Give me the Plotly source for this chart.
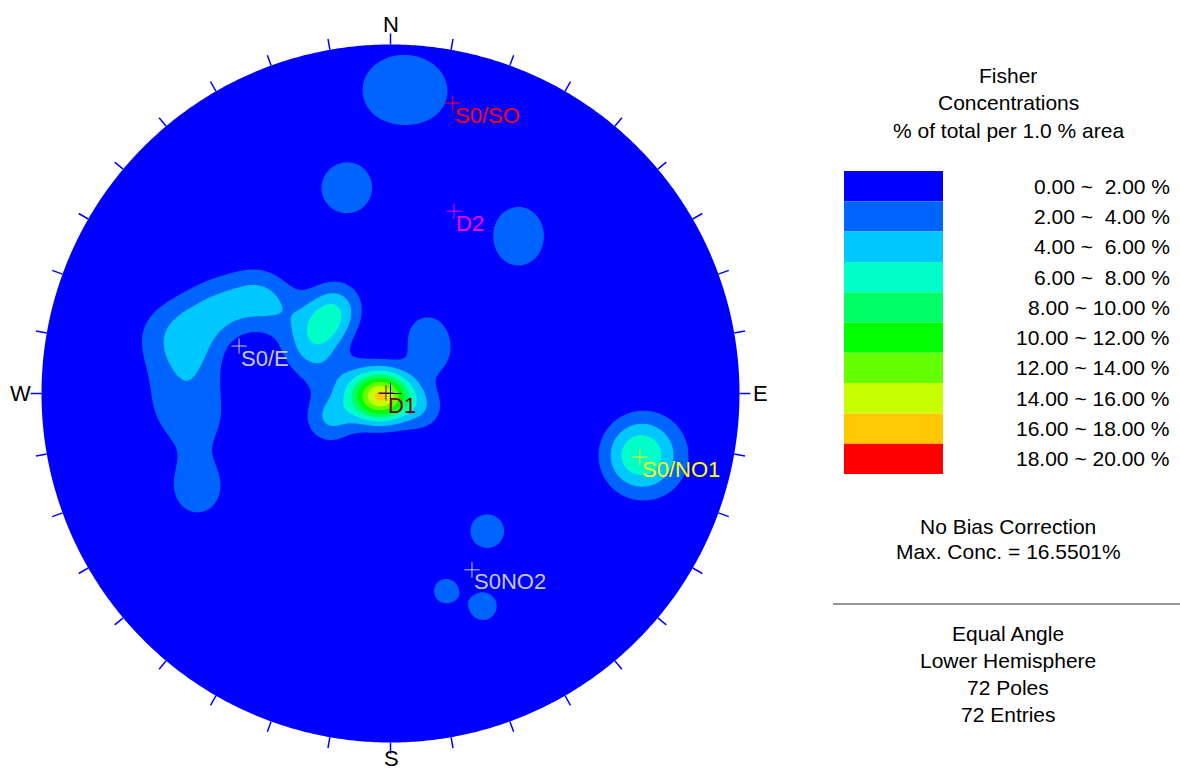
import numpy as np
import plotly.graph_objects as go

# ---------------- data ----------------
# estimated pole groups of the stereonet (lower hemisphere):
# trend, plunge, weight (pole equivalents) and Fisher concentration
POLE_TREND = [359.3, 6.2, 348.0, 37.1, 41.4, 144.9, 164.3, 156.5, 103.8,
              246.8, 241.5,
              306.3, 296.9, 289.0, 281.7, 284.1,
              273.5, 274.2, 265.2, 264.2, 258.75,
              306.9, 329.3, 319.6, 308.4, 294.6, 287.0,
              255.3, 259.1, 99.0, 247.9, 114.7, 290.9, 31.1, 48.7]
POLE_PLUNGE = [8.2, 8.2, 28.1, 27.6, 32.2, 38.6, 29.1, 22.8, 17.1,
               28.1, 25.8,
               39.5, 33.1, 27.9, 29.2, 21.0,
               25.3, 33.9, 25.7, 34.3, 31.0,
               47.5, 57.1, 59.1, 60.3, 58.1, 66.2,
               86.8, 80.5, 86.8, 68.8, 78.6, 75.8, 67.1, 72.0]
POLE_WEIGHT = [0.8, 0.8, 1.23, 0.72, 0.72, 0.95, 0.28, 0.30, 2.75,
               0.6, 0.6,
               1.2, 1.15, 0.85, 0.8, 0.5,
               0.4, 0.4, 0.5, 0.45, 0.4,
               0.7, 1.1, 1.2, 1.1, 0.6, 0.6,
               4.4, 1.2, 1.1, 1.4, 1.0, 0.6, 0.9, 0.8]
POLE_KAPPA = [100, 100, 100, 100, 100, 100, 450, 450, 100,
              100, 100,
              100, 100, 100, 100, 100,
              100, 100, 100, 100, 100,
              100, 100, 100, 100, 100, 100,
              100, 100, 100, 100, 100, 100, 100, 100]
N_POLES = 72
N_ENTRIES = 72
MAX_CONC = 16.5501

LEVELS = [0, 2, 4, 6, 8, 10, 12, 14, 16, 18, 20]
LEVEL_COLORS = ["#0000FF", "#0064FF", "#00C8FF", "#00FFC8", "#00FF64",
                "#00FF00", "#64FF00", "#C8FF00", "#FFC800", "#FF0000"]

SET_NAMES = ["S0/SO", "D2", "S0/E", "D1", "S0/NO1", "S0NO2"]
SET_TREND = [12.1, 19.2, 287.4, 276.3, 104.3, 155.2]
SET_PLUNGE = [9.2, 32.1, 41.1, 88.5, 17.2, 31.8]
SET_COLORS = ["#FF0000", "#FF00FF", "#C8C8C8", "#800000", "#FFFF00", "#C8C8C8"]

DIRECTIONS = ["N", "E", "S", "W"]

# ---------------- layout constants ----------------
W, H = 1180, 771
CX, CY, R = 390.5, 393.5, 349.0
FONT = "Liberation Sans, Arial, sans-serif"


def project(trend, plunge):
    t = np.radians(trend)
    r = np.tan(np.radians(90.0 - np.asarray(plunge)) / 2.0)
    return r * np.sin(t), r * np.cos(t)


def px2data(px, py):
    return (px - CX) / R, (CY - py) / R


# ---------------- Fisher density grid ----------------
n = 421
g = np.linspace(-1.03, 1.03, n)
X, Y = np.meshgrid(g, g)
rr = np.hypot(X, Y)
theta = 2.0 * np.arctan(rr)
az = np.arctan2(X, Y)
ve = np.sin(theta) * np.sin(az)
vn = np.sin(theta) * np.cos(az)
vd = np.cos(theta)

Z = np.zeros_like(X)
for t, p, w, k in zip(POLE_TREND, POLE_PLUNGE, POLE_WEIGHT, POLE_KAPPA):
    tr, pr = np.radians(t), np.radians(p)
    pe, pn, pd = np.cos(pr) * np.sin(tr), np.cos(pr) * np.cos(tr), np.sin(pr)
    c = np.abs(ve * pe + vn * pn + vd * pd)
    Z += w * 100.0 / N_POLES * 0.02 * k * np.exp(k * (c - 1.0))
Z = Z * MAX_CONC / Z.max()
Z = np.round(Z, 3)

colorscale = []
for i, col in enumerate(LEVEL_COLORS):
    colorscale.append([i / len(LEVEL_COLORS), col])
    colorscale.append([(i + 1) / len(LEVEL_COLORS), col])

fig = go.Figure()
fig.add_trace(go.Contour(
    x=g, y=g, z=Z,
    contours=dict(start=LEVELS[1], end=LEVELS[-2], size=2, coloring="fill", showlines=False),
    line=dict(width=0),
    colorscale=colorscale, zmin=LEVELS[0], zmax=LEVELS[-1], zauto=False,
    showscale=False, hoverinfo="skip",
))

shapes = []
# white mask outside the primitive circle
ang = np.linspace(0, 2 * np.pi, 721)
circ = " ".join(("M" if i == 0 else "L") + f"{np.cos(a):.5f},{np.sin(a):.5f}" for i, a in enumerate(ang))
mask = "M-1.2,-1.2 L1.2,-1.2 L1.2,1.2 L-1.2,1.2 Z " + circ + " Z"
shapes.append(dict(type="path", path=mask, xref="x", yref="y", fillcolor="white",
                   line=dict(width=0), fillrule="evenodd", layer="above"))
# ticks every 10 degrees
tick_len = 11.0 / R
for a in range(0, 360, 10):
    s, c = np.sin(np.radians(a)), np.cos(np.radians(a))
    shapes.append(dict(type="line", xref="x", yref="y", x0=s, y0=c,
                       x1=s * (1 + tick_len), y1=c * (1 + tick_len),
                       line=dict(color="#0000FF", width=1.5), layer="above"))
# centre cross
cc = 11.0 / R
shapes.append(dict(type="line", xref="x", yref="y", x0=-cc, y0=0, x1=cc, y1=0,
                   line=dict(color="#000080", width=1), layer="above"))
shapes.append(dict(type="line", xref="x", yref="y", x0=0, y0=-cc, x1=0, y1=cc,
                   line=dict(color="#000080", width=1), layer="above"))

annotations = []
# direction labels
dir_pos = {"N": px2data(391, 24), "E": px2data(760, 393), "S": px2data(391, 758), "W": px2data(20, 393)}
for d in DIRECTIONS:
    x, y = dir_pos[d]
    annotations.append(dict(x=x, y=y, xref="x", yref="y", text=d, showarrow=False,
                            font=dict(family=FONT, size=22, color="black"),
                            xanchor="center", yanchor="middle"))

# set markers and labels
sx, sy = project(np.array(SET_TREND), np.array(SET_PLUNGE))
for name, x, y, col in zip(SET_NAMES, sx, sy, SET_COLORS):
    fig.add_trace(go.Scatter(x=[x], y=[y], mode="markers", hoverinfo="skip",
                             marker=dict(symbol="cross-thin", size=11,
                                         line=dict(color=col, width=1))))
    annotations.append(dict(x=x, y=y, xref="x", yref="y", text=name, showarrow=False,
                            font=dict(family=FONT, size=22, color=col),
                            xanchor="left", yanchor="middle", xshift=0, yshift=-12))

# legend
LX = 1008


def pap(px, py):
    return px / W, 1 - py / H


for txt, py in [("Fisher", 76), ("Concentrations", 103), ("% of total per 1.0 % area", 130)]:
    x, y = pap(LX, py)
    annotations.append(dict(x=x, y=y, xref="paper", yref="paper", text=txt, showarrow=False,
                            font=dict(family=FONT, size=21, color="black"),
                            xanchor="center", yanchor="middle"))

box_top, box_h = 171.0, 30.3
for i, col in enumerate(LEVEL_COLORS):
    y0 = box_top + i * box_h
    shapes.append(dict(type="rect", xref="paper", yref="paper",
                       x0=844 / W, x1=943 / W, y0=1 - y0 / H, y1=1 - (y0 + box_h) / H,
                       fillcolor=col, line=dict(width=0), layer="above"))
    lo, hi = LEVELS[i], LEVELS[i + 1]
    sep = " ~\u00a0 " if hi < 10 else " ~ "
    label = f"{lo:.2f}{sep}{hi:.2f} %"
    x, y = pap(1172, y0 + box_h / 2)
    annotations.append(dict(x=x, y=y, xref="paper", yref="paper", text=label, showarrow=False,
                            font=dict(family=FONT, size=21, color="black"),
                            xanchor="right", yanchor="middle"))

for txt, py in [("No Bias Correction", 526), (f"Max. Conc. = {MAX_CONC:.4f}%", 551),
                ("Equal Angle", 633), ("Lower Hemisphere", 660),
                (f"{N_POLES} Poles", 687), (f"{N_ENTRIES} Entries", 714)]:
    x, y = pap(LX, py)
    annotations.append(dict(x=x, y=y, xref="paper", yref="paper", text=txt, showarrow=False,
                            font=dict(family=FONT, size=21, color="black"),
                            xanchor="center", yanchor="middle"))

shapes.append(dict(type="line", xref="paper", yref="paper", x0=833 / W, x1=1.0,
                   y0=1 - 604 / H, y1=1 - 604 / H, line=dict(color="#707070", width=1.5),
                   layer="above"))

fig.update_layout(
    width=W, height=H, margin=dict(l=0, r=0, t=0, b=0),
    paper_bgcolor="white", plot_bgcolor="white", showlegend=False,
    xaxis=dict(range=[-CX / R, (W - CX) / R], visible=False, fixedrange=True),
    yaxis=dict(range=[(CY - H) / R, CY / R], visible=False, fixedrange=True),
    shapes=shapes, annotations=annotations,
)

fig.write_html("out.html", config={"displayModeBar": False},
               post_script="document.body.style.margin='0px';")
